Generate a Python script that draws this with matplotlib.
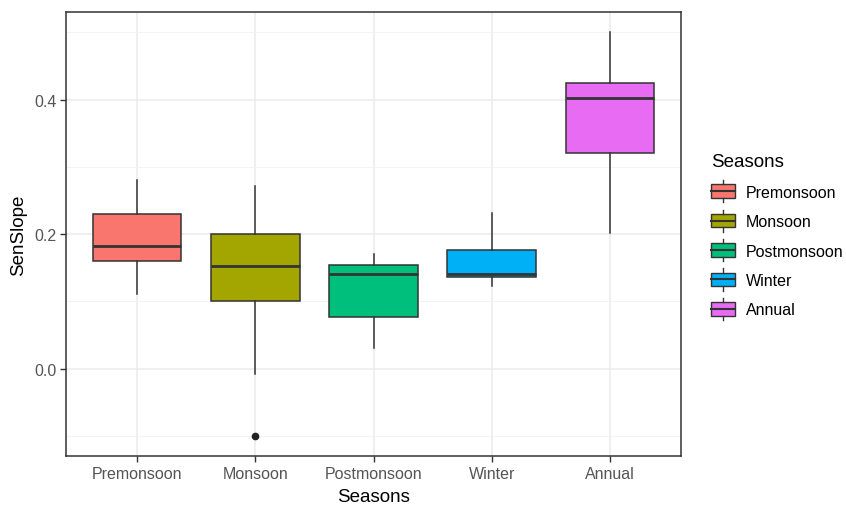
import matplotlib
matplotlib.use("Agg")
import matplotlib.pyplot as plt
from matplotlib.legend_handler import HandlerBase
from matplotlib.patches import Rectangle
from matplotlib.lines import Line2D

# boxplot summary values
seasons = ["Premonsoon", "Monsoon", "Postmonsoon", "Winter", "Annual"]
whisker_low = [0.111, -0.008, 0.031, 0.122, 0.201]
q1 = [0.160, 0.100, 0.076, 0.136, 0.321]
median = [0.182, 0.152, 0.140, 0.140, 0.402]
q3 = [0.230, 0.200, 0.154, 0.176, 0.425]
whisker_high = [0.281, 0.271, 0.170, 0.231, 0.501]
outliers = [[], [-0.100], [], [], []]
colors = ["#F8766D", "#A3A500", "#00BF7D", "#00B0F6", "#E76BF3"]

plt.rcParams["font.family"] = ["Liberation Sans", "DejaVu Sans"]

fig = plt.figure(figsize=(8.46, 5.06), dpi=100)
ax = fig.add_axes([0.078, 0.097, 0.727, 0.877])

stats = []
for i, name in enumerate(seasons):
    stats.append(dict(label=name, whislo=whisker_low[i], q1=q1[i], med=median[i],
                      q3=q3[i], whishi=whisker_high[i], fliers=outliers[i]))

positions = list(range(1, len(seasons) + 1))
bp = ax.bxp(stats, positions=positions, widths=0.75, patch_artist=True,
            showcaps=False,
            boxprops=dict(edgecolor="#333333", linewidth=1.1),
            medianprops=dict(color="#333333", linewidth=2.0),
            whiskerprops=dict(color="#333333", linewidth=1.1),
            flierprops=dict(marker="o", markerfacecolor="#222222",
                            markeredgecolor="#222222", markersize=4.5))
for patch, c in zip(bp["boxes"], colors):
    patch.set_facecolor(c)
for el in bp["boxes"] + bp["medians"] + bp["whiskers"]:
    el.set_zorder(3)

ax.set_xlim(0.4, 5.6)
ax.set_ylim(-0.13, 0.53)
ax.set_yticks([0.0, 0.2, 0.4])
ax.set_yticklabels(["0.0", "0.2", "0.4"])
ax.set_yticks([-0.1, 0.1, 0.3, 0.5], minor=True)
ax.set_xticks(positions)
ax.set_xticklabels(seasons)

ax.grid(True, which="major", color="#EBEBEB", linewidth=1.1, zorder=0)
ax.grid(True, which="minor", axis="y", color="#F2F2F2", linewidth=0.6, zorder=0)
ax.set_axisbelow(True)
ax.tick_params(which="major", length=4, width=1, color="#333333",
               labelsize=11.5, labelcolor="#555555", pad=3)
ax.tick_params(which="minor", length=0)
for s in ax.spines.values():
    s.set_color("#333333")
    s.set_linewidth(1.1)

ax.set_xlabel("Seasons", fontsize=13.5, labelpad=5)
ax.set_ylabel("SenSlope", fontsize=13.5, labelpad=5)


class BoxHandler(HandlerBase):
    def create_artists(self, legend, orig_handle, xdescent, ydescent,
                       width, height, fontsize, trans):
        cx = width / 2 - xdescent
        rect = Rectangle((-xdescent, -ydescent), width, height,
                         facecolor=orig_handle, edgecolor="#333333",
                         linewidth=1.0, transform=trans)
        mid = Line2D([-xdescent, width - xdescent],
                     [height / 2 - ydescent] * 2,
                     color="#333333", linewidth=1.5, transform=trans)
        top = Line2D([cx, cx], [height - ydescent, height - ydescent + 3],
                     color="#333333", linewidth=1.0, transform=trans)
        bot = Line2D([cx, cx], [-ydescent - 3, -ydescent],
                     color="#333333", linewidth=1.0, transform=trans)
        return [rect, mid, top, bot]


leg = fig.legend(colors, seasons, handler_map={str: BoxHandler()},
                 title="Seasons", loc="center left",
                 bbox_to_anchor=(0.827, 0.533), frameon=False,
                 fontsize=11.5, title_fontsize=13.5, handlelength=1.5,
                 handleheight=0.95, labelspacing=0.88, handletextpad=0.7,
                 alignment="left", borderaxespad=0.3)

fig.savefig("out.png", dpi=100)
